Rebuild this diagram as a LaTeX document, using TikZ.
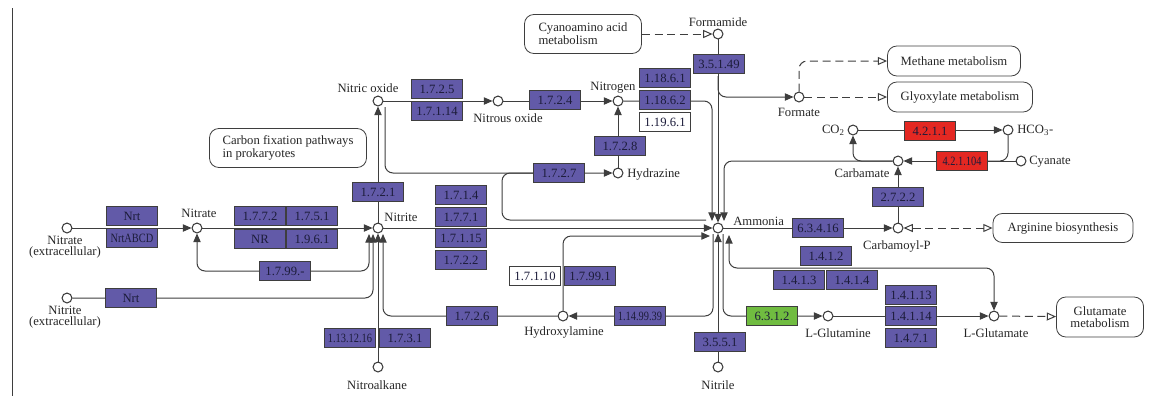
\documentclass[tikz,border=0pt]{standalone}
\usepackage{fontspec}
\setmainfont{Liberation Serif}
\newfontfamily\condensedfont[FakeStretch=0.82]{Liberation Serif}
\usetikzlibrary{arrows.meta,calc}
\pgfdeclarelayer{bg}
\pgfsetlayers{bg,main}
\definecolor{enzp}{RGB}{98,90,168}
\definecolor{enzrd}{RGB}{228,40,34}
\definecolor{enzgr}{RGB}{112,188,64}
\definecolor{linec}{RGB}{62,62,62}
\definecolor{etext}{RGB}{28,28,58}
\begin{document}
\begin{tikzpicture}[x=0.75pt,y=-0.75pt,
  every node/.style={font=\fontsize{9.5}{8.6}\selectfont, text=black!85},
  cpd/.style={circle,draw=linec,fill=white,line width=0.8pt,minimum size=7.4pt,inner sep=0pt},
  enz/.style={rectangle,draw=linec,line width=0.5pt,fill=enzp,minimum width=38pt,minimum height=13.8pt,inner sep=0pt,text=etext},
  enzw/.style={enz,fill=white},
  enzred/.style={enz,fill=enzrd},
  enzgreen/.style={enz,fill=enzgr},
  smallf/.style={font=\fontsize{9.5}{9}\condensedfont},
  pw/.style={draw=linec,line width=0.6pt,rounded corners=7pt,fill=white,inner sep=0pt,align=left},
  lbl/.style={inner sep=0pt},
  conn/.style={draw=linec,line width=0.75pt},
  arr/.style={-{Triangle[length=6.5pt,width=5.5pt]}},
  arrb/.style={{Triangle[length=6.5pt,width=5.5pt]}-{Triangle[length=6.5pt,width=5.5pt]}},
  oarr/.style={dash pattern=on 6pt off 3.5pt,-{Triangle[open,length=7pt,width=6pt]}},
  oarrb/.style={dash pattern=on 6pt off 3.5pt,{Triangle[open,length=7pt,width=6pt]}-{Triangle[open,length=7pt,width=6pt]}},
  rc/.style={rounded corners=6pt}
]
\useasboundingbox (0,0) rectangle (1156,401);
\draw[linec,line width=0.6pt] (12,8) -- (12,396);

% compounds
\node[cpd] (nitrateE) at (67,228) {};
\node[cpd] (nitriteE) at (67,298) {};
\node[cpd] (nitrate) at (197,228) {};
\node[cpd] (nitrite) at (378,228) {};
\node[cpd] (no) at (378,101) {};
\node[cpd] (n2o) at (498,101) {};
\node[cpd] (n2) at (618,101) {};
\node[cpd] (formamide) at (718,34) {};
\node[cpd] (formate) at (799,97) {};
\node[cpd] (co2) at (853,130) {};
\node[cpd] (hco3) at (1008,130) {};
\node[cpd] (cyanate) at (1021,161) {};
\node[cpd] (carbamate) at (898,161) {};
\node[cpd] (carbp) at (898,228) {};
\node[cpd] (nh3) at (718,228) {};
\node[cpd] (hydrazine) at (618,173) {};
\node[cpd] (nh2oh) at (563,316) {};
\node[cpd] (nitroalkane) at (378,367) {};
\node[cpd] (nitrile) at (718,367) {};
\node[cpd] (gln) at (828,316) {};
\node[cpd] (glu) at (994,316) {};

% compound labels
\node[lbl,align=center] (lnitrateE) at (65,247) {Nitrate\\(extracellular)};
\node[lbl,align=center] (lnitriteE) at (65,317) {Nitrite\\(extracellular)};
\node[lbl] (lnitrate) at (199,213) {Nitrate};
\node[lbl] (lnitrite) at (401,217) {Nitrite};
\node[lbl] (lno) at (368,88) {Nitric oxide};
\node[lbl] (ln2o) at (508,118) {Nitrous oxide};
\node[lbl] (ln2) at (613,88) {Nitrogen};
\node[lbl] (lformamide) at (718,22) {Formamide};
\node[lbl] (lformate) at (799,112) {Formate};
\node[lbl,anchor=east] (lco2) at (845,130) {CO\textsubscript{2}};
\node[lbl,anchor=west] (lhco3) at (1017,130) {HCO\textsubscript{3}-};
\node[lbl,anchor=west] (lcyanate) at (1029,162) {Cyanate};
\node[lbl] (lcarbamate) at (862,173) {Carbamate};
\node[lbl] (lcarbp) at (897,246) {Carbamoyl-P};
\node[lbl,anchor=west] (lnh3) at (733,221) {Ammonia};
\node[lbl,anchor=west] (lhydrazine) at (627,174) {Hydrazine};
\node[lbl] (lnh2oh) at (564,332) {Hydroxylamine};
\node[lbl] (lnitroalkane) at (377,385) {Nitroalkane};
\node[lbl] (lnitrile) at (718,385) {Nitrile};
\node[lbl] (lgln) at (838,333) {L-Glutamine};
\node[lbl] (lglu) at (996,333) {L-Glutamate};

% enzymes
\node[enz] (nrt1) at (132,216) {Nrt};
\node[enz,smallf] (nrtabcd) at (132,238) {NrtABCD};
\node[enz] (e1772) at (260,216) {1.7.7.2};
\node[enz] (e1751) at (312,216) {1.7.5.1};
\node[enz] (enr) at (260,239) {NR};
\node[enz] (e1961) at (312,239) {1.9.6.1};
\node[enz] (e1799m) at (285,271) {1.7.99.-};
\node[enz] (nrt2) at (131,298) {Nrt};
\node[enz] (e1721) at (378,192) {1.7.2.1};
\node[enz] (e1725) at (437,89) {1.7.2.5};
\node[enz] (e17114) at (437,111) {1.7.1.14};
\node[enz] (e1724) at (555,100) {1.7.2.4};
\node[enz] (e18161) at (665,78) {1.18.6.1};
\node[enz] (e18162) at (665,100) {1.18.6.2};
\node[enzw] (e19161) at (665,122) {1.19.6.1};
\node[enz] (e3549) at (719,64) {3.5.1.49};
\node[enz] (e1727) at (559,173) {1.7.2.7};
\node[enz] (e1728) at (620,146) {1.7.2.8};
\node[enz] (e1714) at (461,195) {1.7.1.4};
\node[enz] (e1771) at (461,217) {1.7.7.1};
\node[enz] (e17115) at (461,238) {1.7.1.15};
\node[enz] (e1722) at (461,260) {1.7.2.2};
\node[enzw] (e17110) at (535,276) {1.7.1.10};
\node[enz] (e17991) at (590,276) {1.7.99.1};
\node[enz] (e1726) at (472,316) {1.7.2.6};
\node[enz,smallf] (e1149939) at (640,316) {1.14.99.39};
\node[enz,smallf] (e1131216) at (350,338) {1.13.12.16};
\node[enz] (e1731) at (405,338) {1.7.3.1};
\node[enz] (e3551) at (720,342) {3.5.5.1};
\node[enzgreen] (e6312) at (772,316) {6.3.1.2};
\node[enz] (e14113) at (911,295) {1.4.1.13};
\node[enz] (e14114) at (911,316) {1.4.1.14};
\node[enz] (e1471) at (911,338) {1.4.7.1};
\node[enz] (e1412) at (826,256) {1.4.1.2};
\node[enz] (e1413) at (799,280) {1.4.1.3};
\node[enz] (e1414) at (852,280) {1.4.1.4};
\node[enz] (e63416) at (818,228) {6.3.4.16};
\node[enz] (e2722) at (898,197) {2.7.2.2};
\node[enzred] (e4211) at (930,131) {4.2.1.1};
\node[enzred,smallf] (e421104) at (962,161) {4.2.1.104};

% pathway maps
\node[pw,minimum width=87.75pt,minimum height=29.25pt] (pcyano) at (583,34) {Cyanoamino acid\\metabolism};
\node[pw,minimum width=99.75pt,minimum height=22.5pt] (pmethane) at (954,61) {Methane metabolism};
\node[pw,minimum width=108.75pt,minimum height=22.5pt] (pglyox) at (960,97) {Glyoxylate metabolism};
\node[pw,minimum width=117.75pt,minimum height=29.25pt] (pcarbon) at (288,148) {Carbon fixation pathways\\in prokaryotes};
\node[pw,minimum width=105pt,minimum height=21.75pt] (parg) at (1063,228) {Arginine biosynthesis};
\node[pw,align=center,minimum width=65.25pt,minimum height=30pt] (pglu) at (1100,317) {Glutamate\\metabolism};

\coordinate (fmbr) at (718,76);
\coordinate (gdhc) at (900,268);
\coordinate (hzc) at (502,173);

\begin{pgfonlayer}{bg}
\draw[conn,arr] (nitrateE) -- (nitrate);
\draw[conn,arr,rc] (nitriteE) -| ($(nitrite)+(-5,6)$);
\draw[conn,arrb,rc] ($(nitrite)+(-9,6)$) |- (e1799m.center) -| (nitrate);
\draw[conn,arr] (nitrate) -- (nitrite);
\draw[conn,arr] (nitroalkane) -- (nitrite);
\draw[conn,arr,rc] (nh2oh) -| ($(nitrite)+(5,6)$);
\draw[conn,arr] (nitrite) -- (no);
\draw[conn,arr,rc] ($(no)+(7,6)$) |- (hydrazine);
\draw[conn,rc] ($(nh3)+(-12,-8)$) -| (hzc) -- (e1727.center);
\draw[conn,arr] (no) -- (n2o);
\draw[conn,arr] (n2o) -- (n2);
\draw[conn,arr] (hydrazine) -- (n2);
\draw[conn,arr,rc] (n2) -| ($(nh3)+(-6,-7)$);
\draw[conn,arr] (formamide) -- (nh3);
\draw[conn,arr,rc] (fmbr) |- (formate);
\draw[conn,oarr] (pcyano) -- (formamide);
\draw[conn,oarr,rc] (formate) |- (pmethane);
\draw[conn,oarr] (formate) -- (pglyox);
\draw[conn,arr] (co2) -- (hco3);
\draw[conn,arr] (cyanate) -- (carbamate);
\draw[conn,rc] (hco3) |- (e421104.center);
\draw[conn,arr,rc] (carbamate) -| (co2);
\draw[conn,arr,rc] (carbamate) -| ($(nh3)+(6,-7)$);
\draw[conn,arr] (carbp) -- (carbamate);
\draw[conn,arr] (nh3) -- (carbp);
\draw[conn,oarrb] (carbp) -- (parg);
\draw[conn,arrb,rc] ($(nh3)+(11,7)$) |- (gdhc) -| (glu);
\draw[conn,arr,rc] ($(nh3)+(-5,6)$) |- (nh2oh);
\draw[conn,arr] (nitrile) -- (nh3);
\draw[conn,arr,rc] ($(nh3)+(5,6)$) |- (gln);
\draw[conn,arr] (gln) -- (glu);
\draw[conn,oarr] (glu) -- (pglu);
\draw[conn,arr,rc] (nh2oh) |- ($(nh3)+(-8,8)$);
\draw[conn,arr] (nitrite) -- (nh3);
\end{pgfonlayer}
\end{tikzpicture}
\end{document}
